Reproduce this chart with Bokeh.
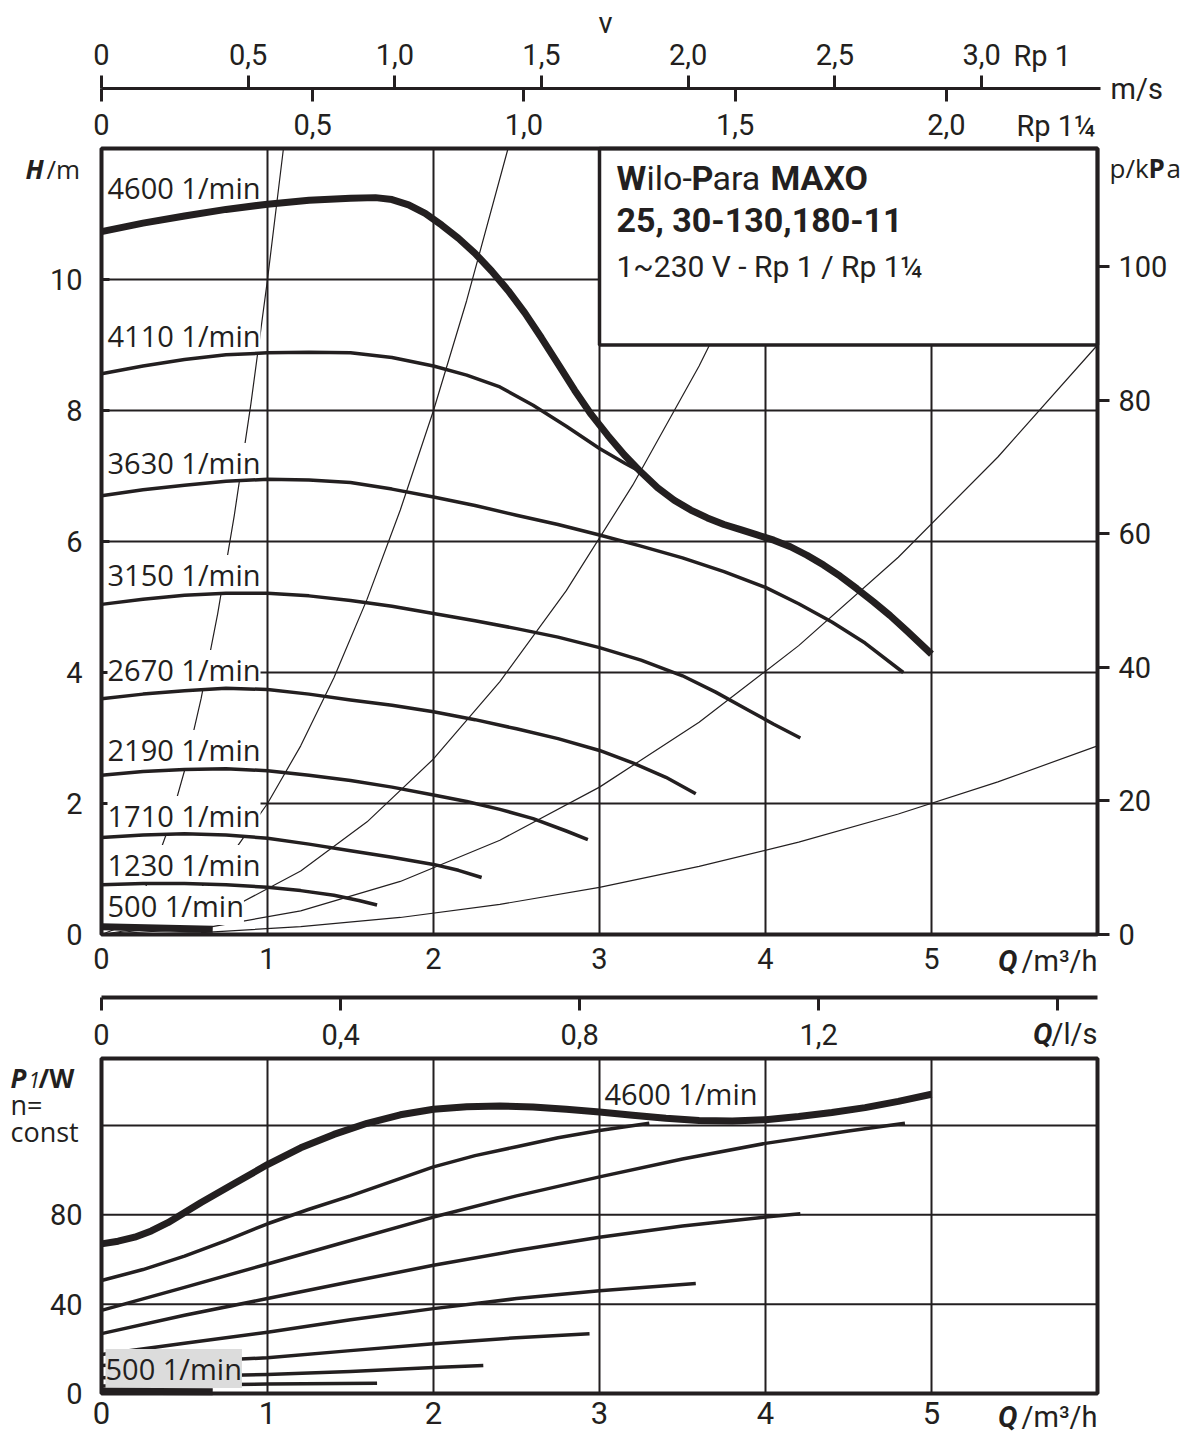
import math
from bokeh.plotting import figure
from bokeh.models import (Range1d, LinearAxis, FixedTicker, CustomJSTickFormatter,
                          Label, BoxAnnotation)
from bokeh.embed import file_html
from bokeh.resources import INLINE

# ---------------- data ----------------
Q_MAX = 6.0        # m3/h
H_MAX = 12.0       # m
P_MAX = 150.0      # W
RHO_G = 9.81       # kPa per m

q_ticks = [0, 1, 2, 3, 4, 5]
h_ticks = [0, 2, 4, 6, 8, 10]
kpa_ticks = [0, 20, 40, 60, 80, 100]
p1_ticks = [0, 40, 80]
p1_grid = [40, 80, 120]
ls_ticks = [0, 0.4, 0.8, 1.2, 1.6]
ls_labels = ["0", "0,4", "0,8", "1,2", ""]
v_rp1_ticks = [0, 0.5, 1.0, 1.5, 2.0, 2.5, 3.0]
v_rp1_labels = ["0", "0,5", "1,0", "1,5", "2,0", "2,5", "3,0"]
v_rp114_ticks = [0, 0.5, 1.0, 1.5, 2.0]
v_rp114_labels = ["0", "0,5", "1,0", "1,5", "2,0"]
d_rp1 = 0.025      # m, bore used for the velocity scale
d_rp114 = 0.030

speed_labels = ["4600 1/min", "4110 1/min", "3630 1/min", "3150 1/min", "2670 1/min",
                "2190 1/min", "1710 1/min", "1230 1/min", "500 1/min"]

# H(Q) curves
h_q_4600 = [0, 0.25, 0.5, 0.75, 1.0, 1.25, 1.5, 1.65, 1.75, 1.85, 1.95, 2.05, 2.15, 2.25, 2.35,
            2.45, 2.55, 2.65, 2.75, 2.85, 2.95, 3.05, 3.15, 3.25, 3.35, 3.45, 3.55, 3.65, 3.75,
            3.85, 3.95, 4.05, 4.15, 4.25, 4.35, 4.45, 4.55, 4.65, 4.75, 4.85, 5.0]
h_4600 = [10.73, 10.86, 10.97, 11.07, 11.15, 11.21, 11.24, 11.25, 11.22, 11.14, 11.01, 10.83,
          10.63, 10.40, 10.13, 9.83, 9.49, 9.11, 8.71, 8.31, 7.94, 7.62, 7.32, 7.06, 6.82, 6.63,
          6.48, 6.36, 6.26, 6.18, 6.10, 6.02, 5.92, 5.79, 5.64, 5.47, 5.28, 5.08, 4.87, 4.64, 4.28]
h_q_4110 = [0, 0.25, 0.5, 0.75, 1.0, 1.25, 1.5, 1.75, 2.0, 2.2, 2.4, 2.6, 2.8, 3.0, 3.15, 3.25]
h_4110 = [8.56, 8.68, 8.78, 8.85, 8.88, 8.89, 8.88, 8.81, 8.68, 8.54, 8.36, 8.08, 7.76, 7.42, 7.20, 7.06]
h_q_3630 = [0, 0.25, 0.5, 0.75, 1.0, 1.25, 1.5, 1.75, 2.0, 2.25, 2.5, 2.75, 3.0, 3.25, 3.5, 3.75,
            4.0, 4.2, 4.4, 4.6, 4.83]
h_3630 = [6.70, 6.79, 6.86, 6.92, 6.95, 6.94, 6.90, 6.80, 6.68, 6.55, 6.40, 6.26, 6.10, 5.93, 5.75,
          5.54, 5.30, 5.05, 4.77, 4.45, 4.00]
h_q_3150 = [0, 0.25, 0.5, 0.75, 1.0, 1.25, 1.5, 1.75, 2.0, 2.25, 2.5, 2.75, 3.0, 3.25, 3.5, 3.7,
            3.9, 4.05, 4.21]
h_3150 = [5.04, 5.12, 5.18, 5.21, 5.21, 5.17, 5.10, 5.01, 4.90, 4.79, 4.67, 4.54, 4.38, 4.19, 3.95,
          3.70, 3.42, 3.21, 3.00]
h_q_2670 = [0, 0.25, 0.5, 0.75, 1.0, 1.25, 1.5, 1.75, 2.0, 2.25, 2.5, 2.75, 3.0, 3.2, 3.4, 3.58]
h_2670 = [3.60, 3.67, 3.72, 3.76, 3.74, 3.67, 3.58, 3.50, 3.40, 3.28, 3.14, 2.99, 2.81, 2.62, 2.40, 2.15]
h_q_2190 = [0, 0.25, 0.5, 0.75, 1.0, 1.25, 1.5, 1.75, 2.0, 2.2, 2.4, 2.6, 2.8, 2.93]
h_2190 = [2.43, 2.49, 2.52, 2.53, 2.50, 2.43, 2.35, 2.25, 2.13, 2.03, 1.91, 1.77, 1.58, 1.45]
h_q_1710 = [0, 0.25, 0.5, 0.75, 1.0, 1.25, 1.5, 1.75, 2.0, 2.15, 2.29]
h_1710 = [1.48, 1.52, 1.54, 1.52, 1.47, 1.38, 1.28, 1.18, 1.07, 0.98, 0.87]
h_q_1230 = [0, 0.25, 0.5, 0.75, 1.0, 1.2, 1.4, 1.55, 1.66]
h_1230 = [0.76, 0.78, 0.78, 0.76, 0.72, 0.67, 0.60, 0.52, 0.45]
h_q_500 = [0, 0.67]
h_500 = [0.12, 0.08]

# system curves (thin)
sys_q_a = [0, 0.1, 0.2, 0.3, 0.4, 0.5, 0.6, 0.7, 0.8, 0.9, 1.0, 1.096]
sys_h_a = [0, 0.1, 0.4, 0.9, 1.6, 2.5, 3.6, 4.9, 6.4, 8.1, 10.0, 12.0]
sys_q_b = [0, 0.2, 0.4, 0.6, 0.8, 1.0, 1.2, 1.4, 1.6, 1.8, 2.0, 2.2, 2.449]
sys_h_b = [0, 0.08, 0.32, 0.72, 1.28, 2.0, 2.88, 3.92, 5.12, 6.48, 8.0, 9.68, 12.0]
sys_q_c = [0, 0.4, 0.8, 1.2, 1.6, 2.0, 2.4, 2.8, 3.2, 3.6, 4.0, 4.23]
sys_h_c = [0, 0.11, 0.43, 0.97, 1.72, 2.68, 3.86, 5.25, 6.86, 8.68, 10.72, 12.0]
sys_q_d = [0, 0.6, 1.2, 1.8, 2.4, 3.0, 3.6, 4.2, 4.8, 5.4, 6.0]
sys_h_d = [0, 0.09, 0.36, 0.81, 1.44, 2.25, 3.24, 4.41, 5.76, 7.29, 9.0]
sys_q_e = [0, 0.6, 1.2, 1.8, 2.4, 3.0, 3.6, 4.2, 4.8, 5.4, 6.0]
sys_h_e = [0, 0.03, 0.12, 0.26, 0.46, 0.72, 1.04, 1.41, 1.84, 2.33, 2.88]

# P1(Q) curves
p_q_4600 = [0, 0.1, 0.2, 0.3, 0.4, 0.6, 0.8, 1.0, 1.2, 1.4, 1.6, 1.8, 2.0, 2.2, 2.4, 2.6, 2.8, 3.0,
            3.2, 3.4, 3.6, 3.8, 4.0, 4.2, 4.4, 4.6, 4.8, 5.0]
p_4600 = [67, 68.2, 70, 72.8, 76.5, 85.5, 94, 102.5, 110, 116, 121, 124.8, 127.3, 128.4, 128.7,
          128.3, 127.3, 126.0, 124.6, 123.2, 122.2, 122.0, 122.6, 124.0, 125.8, 128.0, 130.8, 134]
p_q_4110 = [0, 0.25, 0.5, 0.75, 1.0, 1.25, 1.5, 1.75, 2.0, 2.25, 2.5, 2.75, 3.0, 3.3]
p_4110 = [50.6, 55.5, 61.5, 68.5, 76, 82.5, 88.5, 95, 101.5, 106.5, 110.5, 114.5, 117.8, 121]
p_q_3630 = [0, 0.5, 1.0, 1.5, 2.0, 2.5, 3.0, 3.5, 4.0, 4.5, 4.84]
p_3630 = [37.2, 47.5, 58, 68.5, 79, 88.5, 97, 105, 112, 117.5, 121]
p_q_3150 = [0, 0.5, 1.0, 1.5, 2.0, 2.5, 3.0, 3.5, 4.0, 4.21]
p_3150 = [26.8, 35, 42.5, 50, 57.4, 64, 70, 75, 79, 80.5]
p_q_2670 = [0, 0.5, 1.0, 1.5, 2.0, 2.5, 3.0, 3.58]
p_2670 = [17.5, 22.5, 27.4, 33, 38, 42.5, 46, 49.3]
p_q_2190 = [0, 0.5, 1.0, 1.5, 2.0, 2.5, 2.94]
p_2190 = [12.5, 14.2, 16, 19.2, 22.3, 25, 26.8]
p_q_1710 = [0, 0.5, 1.0, 1.5, 2.0, 2.3]
p_1710 = [7, 7.7, 8.5, 9.8, 11.6, 12.5]
p_q_1230 = [0, 0.5, 1.0, 1.66]
p_1230 = [3.4, 3.8, 4.2, 4.6]
p_q_500 = [0, 0.67]
p_500 = [1.0, 0.8]

# ---------------- layout / style ----------------
INK = "#231f20"
FONT_C = "Roboto"
FONT_O = "Open Sans"
W, H = 1190, 1434
FL, FR = 101, 1097          # chart frame left/right (px)
T_TOP, T_BOT = 148, 934     # H chart top/bottom (px)
B_TOP, B_BOT = 1058, 1393   # P1 chart top/bottom (px)
PXQ = (FR - FL) / Q_MAX
PXM = (T_BOT - T_TOP) / H_MAX
PXW = (B_BOT - B_TOP) / P_MAX

x_lo, x_hi = -FL / PXQ, (W - FL) / PXQ
y_lo, y_hi = -(H - T_BOT) / PXM, T_BOT / PXM
w_lo, w_hi = -(H - B_BOT) / PXW, B_BOT / PXW

p = figure(width=W, height=H, x_range=Range1d(x_lo, x_hi), y_range=Range1d(y_lo, y_hi),
           output_backend="svg", toolbar_location=None, title=None, min_border=0,
           x_axis_location=None, y_axis_location=None, outline_line_color=None)
p.xgrid.visible = False
p.ygrid.visible = False
p.extra_y_ranges = {"kpa": Range1d(y_lo * RHO_G, y_hi * RHO_G),
                    "pw": Range1d(w_lo, w_hi)}
q_per_v1 = math.pi / 4 * d_rp1 ** 2 * 3600
q_per_v2 = math.pi / 4 * d_rp114 ** 2 * 3600
p.extra_x_ranges = {"v1": Range1d(x_lo / q_per_v1, x_hi / q_per_v1),
                    "v2": Range1d(x_lo / q_per_v2, x_hi / q_per_v2),
                    "ls": Range1d(x_lo / 3.6, x_hi / 3.6)}


def list_fmt(ticks, labels):
    return CustomJSTickFormatter(args=dict(t=ticks, l=labels), code="""
        for (let i = 0; i < t.length; i++) { if (Math.abs(t[i] - tick) < 1e-6) return l[i]; }
        return '';""")


def make_axis(side, size=29, tick_in=0, tick_out=0, standoff=5, line=None, **kw):
    ax = LinearAxis(**kw)
    ax.axis_line_color = INK if line else None
    if line:
        ax.axis_line_width = line
    ax.major_tick_line_color = INK
    ax.major_tick_line_width = 3
    ax.major_tick_in = tick_in
    ax.major_tick_out = tick_out
    ax.minor_tick_line_color = None
    ax.major_label_standoff = standoff
    ax.major_label_text_font = FONT_C
    ax.major_label_text_font_size = f"{size}px"
    ax.major_label_text_color = INK
    p.add_layout(ax, side)
    return ax


def put(px, py, text, font=FONT_C, size=29, style="normal", align="left", bg=None):
    lab = Label(x=px, y=H - py, x_units="screen", y_units="screen", text=text,
                text_font=font, text_font_size=f"{size}px", text_font_style=style,
                text_align=align, text_baseline="middle", text_color=INK)
    if bg is not None:
        lab.background_fill_color = bg
        lab.background_fill_alpha = 1.0
    p.add_layout(lab)


# ---- grids (drawn from the tick arrays) ----
gx = q_ticks[1:]
p.segment(x0=gx, y0=[0] * len(gx), x1=gx, y1=[H_MAX] * len(gx), line_color=INK, line_width=2, level="underlay")
gy = h_ticks[1:]
p.segment(x0=[0] * len(gy), y0=gy, x1=[Q_MAX] * len(gy), y1=gy, line_color=INK, line_width=2, level="underlay")
p.segment(x0=gx, y0=[0] * len(gx), x1=gx, y1=[P_MAX] * len(gx), y_range_name="pw",
          line_color=INK, line_width=2, level="underlay")
p.segment(x0=[0] * len(p1_grid), y0=p1_grid, x1=[Q_MAX] * len(p1_grid), y1=p1_grid, y_range_name="pw",
          line_color=INK, line_width=2, level="underlay")

# ---- axes of the H chart ----
make_axis("below", ticker=FixedTicker(ticks=q_ticks), fixed_location=0, bounds=(0, Q_MAX), standoff=13)
make_axis("left", ticker=FixedTicker(ticks=h_ticks), fixed_location=0, bounds=(0, H_MAX),
          tick_in=8, standoff=19)
make_axis("right", y_range_name="kpa", ticker=FixedTicker(ticks=kpa_ticks), fixed_location=Q_MAX,
          bounds=(0, H_MAX * RHO_G), tick_out=12, standoff=9)
v_loc = H_MAX + (T_TOP - 88) / PXM
make_axis("above", x_range_name="v1", ticker=FixedTicker(ticks=v_rp1_ticks),
          formatter=list_fmt(v_rp1_ticks, v_rp1_labels), fixed_location=v_loc,
          bounds=(0, (Q_MAX + 0.02) / q_per_v1), tick_out=13, standoff=11, line=3)
make_axis("below", x_range_name="v2", ticker=FixedTicker(ticks=v_rp114_ticks),
          formatter=list_fmt(v_rp114_ticks, v_rp114_labels), fixed_location=v_loc,
          bounds=(0, Q_MAX / q_per_v2), tick_out=13, standoff=12)
make_axis("below", x_range_name="ls", ticker=FixedTicker(ticks=ls_ticks),
          formatter=list_fmt(ls_ticks, ls_labels), fixed_location=-(997 - T_BOT) / PXM,
          bounds=(0, Q_MAX / 3.6), tick_out=13, standoff=13, line=4)

# ---- axes of the P1 chart ----
make_axis("below", y_range_name="pw", ticker=FixedTicker(ticks=q_ticks), fixed_location=0,
          bounds=(0, Q_MAX), standoff=8, size=31)
make_axis("left", y_range_name="pw", ticker=FixedTicker(ticks=p1_ticks), fixed_location=0,
          bounds=(0, P_MAX), standoff=19)

# ---- system curves ----
for q, h in [(sys_q_a, sys_h_a), (sys_q_b, sys_h_b), (sys_q_c, sys_h_c),
             (sys_q_d, sys_h_d), (sys_q_e, sys_h_e)]:
    p.line(q, h, line_color=INK, line_width=1.2, line_join="round")

# ---- pump curves H(Q) ----
h_curves = [(h_q_4600, h_4600, 7), (h_q_4110, h_4110, 3.5), (h_q_3630, h_3630, 3.5),
            (h_q_3150, h_3150, 3.5), (h_q_2670, h_2670, 3.5), (h_q_2190, h_2190, 3.5),
            (h_q_1710, h_1710, 3.5), (h_q_1230, h_1230, 3.5), (h_q_500, h_500, 7)]
for q, h, w in h_curves:
    p.line(q, h, line_color=INK, line_width=w, line_join="round", level="overlay")

# ---- P1(Q) curves ----
for q, pw in [(p_q_4110, p_4110), (p_q_3630, p_3630), (p_q_3150, p_3150), (p_q_2670, p_2670),
              (p_q_2190, p_2190), (p_q_1710, p_1710), (p_q_1230, p_1230)]:
    p.line(q, pw, y_range_name="pw", line_color=INK, line_width=3.5, line_join="round")
p.line(p_q_4600, p_4600, y_range_name="pw", line_color=INK, line_width=7, line_join="round", level="overlay")
p.line(p_q_500, p_500, y_range_name="pw", line_color=INK, line_width=7, level="overlay")

# ---- frames ----
p.quad(left=[0], right=[Q_MAX], bottom=[0], top=[H_MAX], fill_color=None, line_color=INK,
       line_width=4, level="overlay")
p.quad(left=[0], right=[Q_MAX], bottom=[0], top=[P_MAX], y_range_name="pw", fill_color=None,
       line_color=INK, line_width=4, level="overlay")

# ---- title box ----
p.add_layout(BoxAnnotation(left=3, right=Q_MAX, bottom=9, top=H_MAX, fill_color="white",
                           fill_alpha=1.0, line_color=INK, line_alpha=1.0, line_width=3.5))
put(616, 177, "W", size=34, style="bold")
put(646, 177, "ilo-", size=34)
put(691, 177, "P", size=34, style="bold")
put(712, 177, "ara", size=34)
put(770, 177, "MAXO", size=34, style="bold")
put(616, 219, "25, 30-130,180-11", size=34, style="bold")
put(616, 266, "1~230 V - Rp 1 / Rp 1¼", size=30)

# ---- curve labels ----
label_cy = [187, 335, 462, 574, 669, 749, 815, 864, 905]
for txt, cy in zip(speed_labels, label_cy):
    put(107, cy, txt, font=FONT_O, size=29, bg="white")
put(604, 1093, speed_labels[0], font=FONT_O, size=29, bg="white")
put(105, 1368, speed_labels[-1], font=FONT_O, size=29, bg="#dcdcdc")

# ---- axis titles ----
put(605, 22, "v", align="center")
put(1013, 55, "Rp 1")
put(1110, 88, "m/s")
put(1016, 125, "Rp 1¼")
put(25, 168, "H", font=FONT_O, size=26, style="bold italic")
put(46, 168, "/m", font=FONT_O, size=26)
put(1109, 167, "p/k", font=FONT_O, size=26)
put(1148, 167, "P", font=FONT_O, size=26, style="bold")
put(1166, 167, "a", font=FONT_O, size=26)
put(1017, 960, "Q", style="bold italic", align="right")
put(1097, 960, "/m³/h", align="right")
put(1052, 1033, "Q", style="bold italic", align="right")
put(1097, 1033, "/l/s", align="right")
put(10, 1077, "P", font=FONT_O, size=26, style="bold italic")
put(28, 1079, "1", font=FONT_O, size=21, style="italic")
put(38, 1077, "/W", font=FONT_O, size=26, style="bold")
put(10, 1104, "n=", font=FONT_O, size=27)
put(10, 1131, "const", font=FONT_O, size=27)
put(1017, 1416, "Q", style="bold italic", align="right")
put(1097, 1416, "/m³/h", align="right")

with open("out.html", "w") as f:
    f.write(file_html(p, INLINE, title="Wilo-Para MAXO 25, 30-130,180-11"))
